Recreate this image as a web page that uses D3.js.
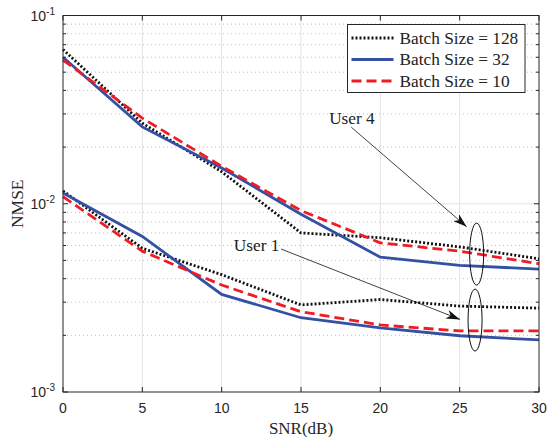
<!DOCTYPE html>
<html>
<head>
<meta charset="utf-8">
<script src="https://d3js.org/d3.v7.min.js"></script>
<style>
  html, body { margin: 0; padding: 0; background: white; }
</style>
</head>
<body>
<div id="chart"></div>
<script>
// SNR points (dB)
const snr = [0, 5, 10, 15, 20, 25, 30];
const xTicks = [0, 5, 10, 15, 20, 25, 30];
const yTicks = [1e-3, 1e-2, 1e-1];
const yTickExp = ["-3", "-2", "-1"];

// User 4 curves
const user4_b128 = [0.066, 0.0268, 0.0148, 0.0070, 0.0066, 0.0059, 0.0051];
const user4_b32  = [0.060, 0.0256, 0.0155, 0.0088, 0.0052, 0.0047, 0.0045];
const user4_b10  = [0.058, 0.0285, 0.0158, 0.0092, 0.0062, 0.0056, 0.0048];

// User 1 curves
const user1_b128 = [0.0117, 0.0058, 0.0042, 0.0029, 0.0031, 0.00286, 0.00279];
const user1_b32  = [0.0114, 0.0067, 0.0033, 0.00248, 0.00219, 0.00199, 0.00189];
const user1_b10  = [0.0109, 0.0056, 0.0037, 0.00267, 0.00227, 0.00211, 0.00211];

const legendLabels = ["Batch Size = 128", "Batch Size = 32", "Batch Size = 10"];

const W = 552, H = 437;
const margin = { top: 15.5, right: 13, bottom: 45, left: 63 };
const width = W - margin.left - margin.right;
const height = H - margin.top - margin.bottom;

const styles = [
  { color: "#111111", dash: "2,2", width: 2.8 },
  { color: "#3350a3", dash: null, width: 2.8 },
  { color: "#ee1c25", dash: "10,5", width: 2.8 }
];

const series = [
  { values: user4_b128, s: 0 }, { values: user4_b32, s: 1 }, { values: user4_b10, s: 2 },
  { values: user1_b128, s: 0 }, { values: user1_b32, s: 1 }, { values: user1_b10, s: 2 }
];

const svg = d3.select("#chart").append("svg")
  .attr("width", W).attr("height", H);
svg.append("rect").attr("width", W).attr("height", H).attr("fill", "white");

const g = svg.append("g").attr("transform", `translate(${margin.left},${margin.top})`);

const x = d3.scaleLinear().domain([0, 30]).range([0, width]);
const y = d3.scaleLog().domain([1e-3, 1e-1]).range([height, 0]);

// minor values
const minor = [];
[1e-3, 1e-2].forEach(d => { for (let k = 2; k <= 9; k++) minor.push(d * k); });

// grid
g.append("g").selectAll("line").data(minor).enter().append("line")
  .attr("x1", 0).attr("x2", width)
  .attr("y1", d => y(d)).attr("y2", d => y(d))
  .attr("stroke", "#bdbdbd").attr("stroke-width", 1).attr("stroke-dasharray", "1,3");
g.append("g").selectAll("line").data(xTicks.slice(1, -1)).enter().append("line")
  .attr("x1", d => x(d)).attr("x2", d => x(d))
  .attr("y1", 0).attr("y2", height)
  .attr("stroke", "#e3e3e3").attr("stroke-width", 1);
g.append("line").attr("x1", 0).attr("x2", width)
  .attr("y1", y(1e-2)).attr("y2", y(1e-2))
  .attr("stroke", "#e3e3e3").attr("stroke-width", 1);

// lines
const line = d3.line().x((d, i) => x(snr[i])).y(d => y(d));
series.forEach(sr => {
  const st = styles[sr.s];
  g.append("path").datum(sr.values)
    .attr("fill", "none")
    .attr("stroke", st.color)
    .attr("stroke-width", st.width)
    .attr("stroke-dasharray", st.dash)
    .attr("d", line);
});

// axes box
const axisColor = "#262626";
g.append("rect").attr("width", width).attr("height", height)
  .attr("fill", "none").attr("stroke", axisColor).attr("stroke-width", 1);

// ticks (inside)
xTicks.forEach(d => {
  g.append("line").attr("x1", x(d)).attr("x2", x(d)).attr("y1", height).attr("y2", height - 5).attr("stroke", axisColor);
  g.append("line").attr("x1", x(d)).attr("x2", x(d)).attr("y1", 0).attr("y2", 5).attr("stroke", axisColor);
});
yTicks.forEach(d => {
  g.append("line").attr("x1", 0).attr("x2", 5).attr("y1", y(d)).attr("y2", y(d)).attr("stroke", axisColor);
  g.append("line").attr("x1", width).attr("x2", width - 5).attr("y1", y(d)).attr("y2", y(d)).attr("stroke", axisColor);
});
minor.forEach(d => {
  g.append("line").attr("x1", 0).attr("x2", 3).attr("y1", y(d)).attr("y2", y(d)).attr("stroke", axisColor);
  g.append("line").attr("x1", width).attr("x2", width - 3).attr("y1", y(d)).attr("y2", y(d)).attr("stroke", axisColor);
});

// tick labels
const sans = "'Liberation Sans', Arial, Helvetica, sans-serif";
const serif = "'Liberation Serif', 'Times New Roman', serif";
xTicks.forEach(d => {
  g.append("text").attr("x", x(d)).attr("y", height + 21)
    .attr("text-anchor", "middle").attr("font-family", sans).attr("font-size", 14)
    .attr("fill", axisColor).text(d);
});
yTicks.forEach((d, i) => {
  const t = g.append("text").attr("x", -8).attr("y", y(d) + 5)
    .attr("text-anchor", "end").attr("font-family", sans).attr("font-size", 14)
    .attr("fill", axisColor);
  t.append("tspan").text("10");
  t.append("tspan").attr("dy", -6).attr("font-size", 10).text(yTickExp[i]);
});

// axis titles
svg.append("text").attr("x", margin.left + width / 2).attr("y", 434)
  .attr("text-anchor", "middle").attr("font-family", serif).attr("font-size", 17)
  .attr("fill", axisColor).text("SNR(dB)");
svg.append("text")
  .attr("transform", `translate(22.5,${margin.top + y(1e-2)}) rotate(-90)`)
  .attr("text-anchor", "middle").attr("font-family", serif).attr("font-size", 17.5)
  .attr("fill", axisColor).text("NMSE");

// annotations (data coordinates)
const annotations = [
  { label: "User 4", tx: 18.21, ty: 0.0265, from: [18.17, 0.0255], to: [25.44, 0.00755], ex: 26.07, ey: 0.0054 },
  { label: "User 1", tx: 12.2, ty: 0.00563, from: [13.74, 0.00575], to: [25.02, 0.00243], ex: 25.97, ey: 0.00241 }
];
const defs = svg.append("defs");
defs.append("marker").attr("id", "arr").attr("viewBox", "0 0 14 9")
  .attr("refX", 14).attr("refY", 4.5).attr("markerWidth", 14).attr("markerHeight", 9)
  .attr("markerUnits", "userSpaceOnUse").attr("orient", "auto")
  .append("path").attr("d", "M0,0 L14,4.5 L0,9 L4,4.5 Z").attr("fill", "#111");

annotations.forEach(a => {
  g.append("text").attr("x", x(a.tx)).attr("y", y(a.ty))
    .attr("text-anchor", "middle").attr("font-family", serif).attr("font-size", 17.3)
    .attr("fill", "#222").text(a.label);
  g.append("line").attr("x1", x(a.from[0])).attr("y1", y(a.from[1]))
    .attr("x2", x(a.to[0])).attr("y2", y(a.to[1]))
    .attr("stroke", "#111").attr("stroke-width", 0.8).attr("marker-end", "url(#arr)");
  g.append("ellipse").attr("cx", x(a.ex)).attr("cy", y(a.ey))
    .attr("rx", 7).attr("ry", 31)
    .attr("fill", "none").attr("stroke", "#111").attr("stroke-width", 1);
});

// legend
const lg = svg.append("g").attr("transform", "translate(347.5,24.5)");
lg.append("rect").attr("width", 177.5).attr("height", 68)
  .attr("fill", "white").attr("stroke", axisColor).attr("stroke-width", 1);
legendLabels.forEach((lab, i) => {
  const st = styles[i];
  const yy = 13.5 + i * 21.5;
  lg.append("line").attr("x1", 4).attr("x2", 46).attr("y1", yy).attr("y2", yy)
    .attr("stroke", st.color).attr("stroke-width", st.width)
    .attr("stroke-dasharray", st.dash);
  lg.append("text").attr("x", 52).attr("y", yy + 5.5)
    .attr("font-family", serif).attr("font-size", 17.3).attr("fill", "#222").text(lab);
});
</script>
</body>
</html>
